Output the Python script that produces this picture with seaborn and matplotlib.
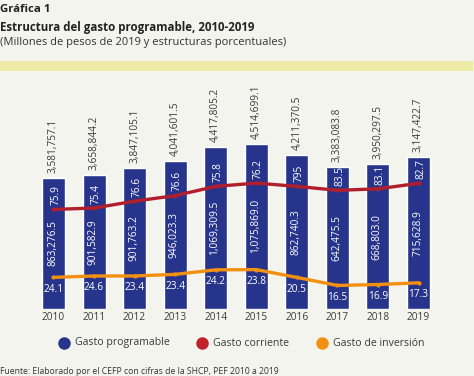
import matplotlib
matplotlib.use("Agg")
import matplotlib.pyplot as plt
import seaborn as sns
import pandas as pd
import numpy as np
from matplotlib.lines import Line2D

# ---------------- data ----------------
years = ["2010", "2011", "2012", "2013", "2014", "2015", "2016", "2017", "2018", "2019"]
# bar heights as drawn (millones de pesos de 2019)
gasto_programable = [3581757.1, 3658844.2, 3847105.1, 4041601.5, 4417805.2,
                     4514699.1, 4211370.5, 3883083.8, 3950297.5, 4147422.7]
# labels printed above bars (as they appear in the source)
programable_labels = ["3,581,757.1", "3,658,844.2", "3,847,105.1", "4,041,601.5", "4,417,805.2",
                      "4,514,699.1", "4,211,370.5", "3,383,083.8", "3,950,297.5", "3,147,422.7"]
gasto_corriente = [2718480.6, 2757261.3, 2945341.9, 3095578.2, 3348495.7,
                   3438830.1, 3348630.2, 3240608.3, 3281494.5, 3431793.8]
gasto_inversion = [863276.5, 901582.9, 901763.2, 946023.3, 1069309.5,
                   1075869.0, 862740.3, 642475.5, 668803.0, 715628.9]
inversion_labels = ["863,276.5", "901,582.9", "901,763.2", "946,023.3", "1,069,309.5",
                    "1,075,869.0", "862,740.3", "642,475.5", "668,803.0", "715,628.9"]
pct_corriente = ["75.9", "75.4", "76.6", "76.6", "75.8", "76.2", "795", "83.5", "83.1", "82.7"]
pct_inversion = ["24.1", "24.6", "23.4", "23.4", "24.2", "23.8", "20.5", "16.5", "16.9", "17.3"]

# ---------------- style ----------------
BG = "#f4f4ef"
NAVY = "#27348b"
RED = "#b21f2c"
ORANGE = "#f29111"
TXT = "#3a3a3a"

sns.set_theme(style="white")
plt.rcParams["font.family"] = ["Open Sans", "DejaVu Sans"]

W, H = 474, 376
fig = plt.figure(figsize=(W / 100, H / 100), dpi=100)
fig.patch.set_facecolor(BG)

# axes geometry in pixels
px_per_unit = 0.00003662          # pixels per million pesos
base_y = 309                      # baseline (from top)
ax_top = 72
ax = fig.add_axes([0, (H - base_y) / H, 1, (base_y - ax_top) / H])
ax.set_facecolor(BG)

x0_px, step_px = 53.5, 40.56
xlim = (-x0_px / step_px, (W - x0_px) / step_px)
ylim = (0, (base_y - ax_top) / px_per_unit)

df = pd.DataFrame({"year": years, "programable": gasto_programable,
                   "corriente": gasto_corriente, "inversion": gasto_inversion,
                   "pos": np.arange(len(years))})

sns.barplot(data=df, x="year", y="programable", color=NAVY, saturation=1,
            width=23 / step_px, ax=ax, zorder=2)
sns.lineplot(data=df, x="pos", y="corriente", color=RED, linewidth=2.4,
             marker="o", markersize=3, markeredgewidth=0, ax=ax, zorder=3)
sns.lineplot(data=df, x="pos", y="inversion", color=ORANGE, linewidth=2.4,
             marker="o", markersize=3, markeredgewidth=0, ax=ax, zorder=3)

ax.set_xlim(*xlim)
ax.set_ylim(*ylim)
for s in ax.spines.values():
    s.set_visible(False)
ax.set_yticks([])
ax.set_xlabel("")
ax.set_ylabel("")
ax.tick_params(axis="x", length=0, pad=2.5, labelsize=7.3, labelcolor=TXT)

fs = 7.3
for i in range(len(years)):
    ax.annotate(programable_labels[i], (i, gasto_programable[i]), xytext=(0, 3.5),
                textcoords="offset points", rotation=90, ha="center", va="bottom",
                fontsize=fs, color=TXT, zorder=5)
    ax.annotate(pct_corriente[i], (i, gasto_corriente[i]), xytext=(1.5, 3),
                textcoords="offset points", rotation=90, ha="center", va="bottom",
                fontsize=fs, color="white", zorder=5)
    mid = (gasto_corriente[i] + gasto_inversion[i]) / 2
    ax.annotate(inversion_labels[i], (i, mid), xytext=(-0.5, 0),
                textcoords="offset points", rotation=90, ha="center", va="center",
                fontsize=fs, color="white", zorder=5)
    ax.annotate(pct_inversion[i], (i, gasto_inversion[i]), xytext=(0, -8.5),
                textcoords="offset points", ha="center", va="center",
                fontsize=fs, color="white", zorder=5)

# yellow band
fig.add_artist(plt.Rectangle((0, 1 - 71 / H), 473 / W, 10 / H, transform=fig.transFigure,
                             facecolor="#ede9a6", edgecolor="none", zorder=0))

# titles
fig.text(0.0, 1 - 9 / H, "Gráfica 1", fontsize=8.2, fontweight="bold", color="#222222",
         ha="left", va="center")
fig.text(0.0, 1 - 28 / H, "Estructura del gasto programable, 2010-2019", fontsize=8.3,
         fontweight="bold", color="#222222", ha="left", va="center")
fig.text(0.0, 1 - 43 / H, "(Millones de pesos de 2019 y estructuras porcentuales)",
         fontsize=8.0, color="#333333", ha="left", va="center")

# legend
leg_y = 1 - 343 / H
items = [(64, NAVY, "Gasto programable"), (202, "#c1212b", "Gasto corriente"),
         (322, ORANGE, "Gasto de inversión")]
for xc, col, lab in items:
    fig.add_artist(Line2D([xc / W], [leg_y], marker="o", markersize=9, color=col,
                          markeredgewidth=0, linestyle="none", transform=fig.transFigure))
    fig.text((xc + 11) / W, leg_y, lab, fontsize=7.6, color=TXT, ha="left", va="center")

# footnote
fig.text(0.0, 1 - 371 / H, "Fuente: Elaborado por el CEFP con cifras de la SHCP, PEF 2010 a 2019",
         fontsize=6.2, color="#333333", ha="left", va="center")

fig.savefig("out.png", dpi=100, facecolor=BG)
